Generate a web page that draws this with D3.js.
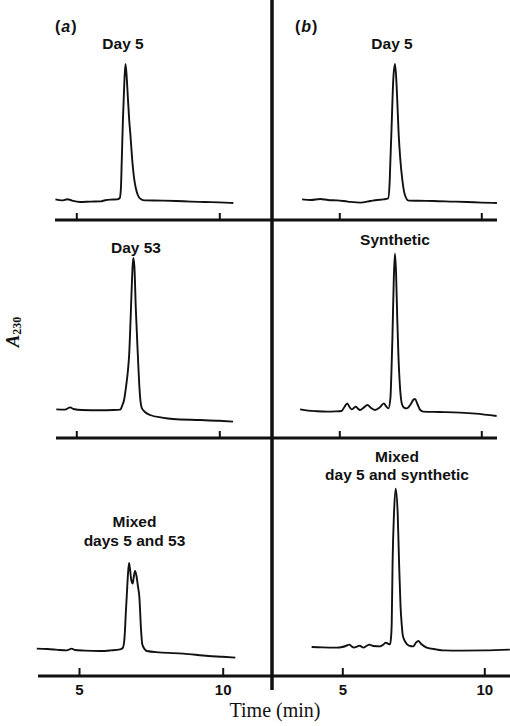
<!DOCTYPE html>
<html>
<head>
<meta charset="utf-8">
<script src="https://cdn.jsdelivr.net/npm/d3@7"></script>
<style>
  html, body { margin: 0; padding: 0; background: #fff; }
  svg { display: block; }
</style>
</head>
<body>
<svg id="chart" width="510" height="726"></svg>
<script>
// ---------- DATA (time in min, absorbance in arbitrary units) ----------
const tickValues = [5, 10];
const tickLabels = ["5", "10"];

const day5A = [[4.27,0.103],[4.5,0.098],[4.69,0.104],[4.85,0.097],[5.14,0.09],[5.5,0.092],[5.85,0.093],[6.01,0.099],[6.2,0.102],[6.43,0.103],[6.52,0.11],[6.56,0.16],[6.59,0.3],[6.63,0.5],[6.68,0.69],[6.72,0.78],[6.76,0.72],[6.8,0.62],[6.85,0.5],[6.89,0.43],[6.95,0.31],[7.02,0.21],[7.08,0.16],[7.15,0.125],[7.25,0.105],[7.4,0.098],[8.0,0.097],[8.5,0.095],[9.0,0.092],[9.5,0.09],[10.0,0.088],[10.49,0.085]];
const day53A = [[4.3,0.143],[4.6,0.142],[4.79,0.153],[4.9,0.145],[5.2,0.14],[5.8,0.139],[6.3,0.14],[6.54,0.142],[6.6,0.16],[6.67,0.19],[6.74,0.257],[6.8,0.33],[6.85,0.42],[6.9,0.6],[6.95,0.8],[6.99,0.9],[7.03,0.86],[7.08,0.65],[7.15,0.42],[7.2,0.27],[7.24,0.19],[7.29,0.15],[7.4,0.13],[7.58,0.115],[8.0,0.102],[8.38,0.095],[9.33,0.09],[10.0,0.086],[10.48,0.082]];
const mixedA = [[3.53,0.137],[3.9,0.135],[4.2,0.132],[4.57,0.128],[4.75,0.137],[4.85,0.13],[5.2,0.127],[5.73,0.125],[6.1,0.128],[6.43,0.133],[6.52,0.14],[6.57,0.17],[6.6,0.228],[6.63,0.32],[6.66,0.395],[6.7,0.5],[6.74,0.565],[6.77,0.54],[6.82,0.48],[6.87,0.462],[6.91,0.5],[6.95,0.525],[7.0,0.5],[7.05,0.45],[7.1,0.395],[7.16,0.228],[7.2,0.16],[7.28,0.135],[7.36,0.125],[7.8,0.118],[8.63,0.112],[9.5,0.1],[10.0,0.096],[10.44,0.092]];
const day5B = [[3.69,0.103],[4.0,0.1],[4.33,0.105],[4.6,0.1],[4.92,0.098],[5.3,0.092],[5.74,0.087],[6.1,0.095],[6.33,0.1],[6.55,0.103],[6.72,0.108],[6.77,0.18],[6.8,0.3],[6.84,0.46],[6.9,0.7],[6.96,0.78],[7.0,0.72],[7.04,0.6],[7.09,0.43],[7.15,0.3],[7.22,0.2],[7.3,0.13],[7.44,0.097],[7.8,0.096],[8.32,0.095],[9.0,0.092],[9.5,0.09],[10.0,0.087],[10.55,0.085]];
const syntheticB = [[3.62,0.143],[3.9,0.137],[4.2,0.134],[4.56,0.132],[4.85,0.133],[5.08,0.135],[5.18,0.155],[5.28,0.173],[5.36,0.155],[5.44,0.143],[5.51,0.15],[5.58,0.157],[5.65,0.148],[5.73,0.14],[5.86,0.152],[5.99,0.165],[6.12,0.15],[6.26,0.14],[6.42,0.152],[6.57,0.173],[6.65,0.158],[6.73,0.148],[6.8,0.2],[6.84,0.35],[6.87,0.5],[6.92,0.8],[6.96,0.923],[7.0,0.82],[7.04,0.6],[7.08,0.42],[7.13,0.27],[7.2,0.173],[7.28,0.152],[7.37,0.148],[7.52,0.17],[7.62,0.193],[7.67,0.195],[7.75,0.17],[7.85,0.14],[7.96,0.132],[8.5,0.13],[9.25,0.127],[9.8,0.122],[10.54,0.11]];
const mixedB = [[3.92,0.145],[4.3,0.143],[4.8,0.142],[5.0,0.145],[5.12,0.15],[5.25,0.157],[5.33,0.148],[5.41,0.142],[5.52,0.147],[5.62,0.152],[5.68,0.146],[5.74,0.142],[5.85,0.15],[5.95,0.157],[6.1,0.15],[6.33,0.148],[6.45,0.158],[6.53,0.167],[6.6,0.162],[6.68,0.158],[6.72,0.2],[6.74,0.262],[6.77,0.562],[6.82,0.812],[6.88,0.937],[6.95,0.812],[7.0,0.562],[7.05,0.35],[7.09,0.262],[7.13,0.203],[7.22,0.17],[7.35,0.152],[7.5,0.148],[7.6,0.168],[7.68,0.175],[7.78,0.16],[7.97,0.142],[8.3,0.133],[8.56,0.128],[9.2,0.127],[10.0,0.128],[10.9,0.132]];

const titlesA = [["Day 5"], ["Day 53"], ["Mixed", "days 5 and 53"]];
const titlesB = [["Day 5"], ["Synthetic"], ["Mixed", "day 5 and synthetic"]];
const panelLetters = ["a", "b"];
const xLabel = "Time (min)";

// ---------- LAYOUT ----------
const svg = d3.select("#chart");
const ink = "#111";
const sans = "'Liberation Sans', Arial, Helvetica, sans-serif";
const serif = "'Liberation Serif', 'Times New Roman', serif";
const dividerX = 272;

const rows = [
  { axisY: 220, leftStart: 55, rightEnd: 497, xa: [76.3, 219.3], xb: [339.3, 481.3] },
  { axisY: 438, leftStart: 56, rightEnd: 497, xa: [76.3, 219.3], xb: [339.3, 481.3] },
  { axisY: 676, leftStart: 38, rightEnd: 510, xa: [79, 222.7], xb: [342.3, 484.3] }
];
const titleBaselinesA = [[49], [253], [527, 546]];
const titleBaselinesB = [[49], [245], [462, 480]];
const titleCentersA = [123, 136, 134.5];
const titleCentersB = [392, 395, 397];

const seriesA = [day5A, day53A, mixedA];
const seriesB = [day5B, syntheticB, mixedB];

rows.forEach((r, i) => {
  const xA = d3.scaleLinear().domain(tickValues).range(r.xa);
  const xB = d3.scaleLinear().domain(tickValues).range(r.xb);
  const y = d3.scaleLinear().domain([0, 1]).range([r.axisY, r.axisY - 200]);

  const line = x => d3.line().x(d => x(d[0])).y(d => y(d[1])).curve(d3.curveMonotoneX);

  // axis base lines
  svg.append("line").attr("x1", r.leftStart).attr("x2", dividerX)
    .attr("y1", r.axisY).attr("y2", r.axisY)
    .attr("stroke", ink).attr("stroke-width", 3.2);
  svg.append("line").attr("x1", dividerX).attr("x2", r.rightEnd)
    .attr("y1", r.axisY).attr("y2", r.axisY)
    .attr("stroke", ink).attr("stroke-width", 3.2);

  // ticks
  [xA, xB].forEach(x => {
    const g = svg.append("g").attr("transform", `translate(0,${r.axisY})`)
      .call(d3.axisTop(x).tickValues(tickValues).tickSize(i === 2 ? 8 : 7).tickFormat(""));
    g.select(".domain").remove();
    g.selectAll(".tick line").attr("stroke", ink).attr("stroke-width", 2);
    if (i === 2) {
      const gl = svg.append("g").attr("transform", `translate(0,${r.axisY})`)
        .call(d3.axisBottom(x).tickValues(tickValues).tickSize(0).tickPadding(8.5)
          .tickFormat((d, k) => tickLabels[k]));
      gl.select(".domain").remove();
      gl.selectAll("text").attr("font-family", sans).attr("font-size", 15)
        .attr("font-weight", "bold").attr("fill", ink);
    }
  });

  // traces
  svg.append("path").datum(seriesA[i]).attr("d", line(xA))
    .attr("fill", "none").attr("stroke", ink).attr("stroke-width", 1.9)
    .attr("stroke-linejoin", "round");
  svg.append("path").datum(seriesB[i]).attr("d", line(xB))
    .attr("fill", "none").attr("stroke", ink).attr("stroke-width", 1.9)
    .attr("stroke-linejoin", "round");

  // titles
  titlesA[i].forEach((t, k) => {
    svg.append("text").attr("x", titleCentersA[i]).attr("y", titleBaselinesA[i][k])
      .attr("text-anchor", "middle").attr("font-family", sans).attr("font-size", 15.5)
      .attr("font-weight", "bold").attr("fill", ink).text(t);
  });
  titlesB[i].forEach((t, k) => {
    svg.append("text").attr("x", titleCentersB[i]).attr("y", titleBaselinesB[i][k])
      .attr("text-anchor", "middle").attr("font-family", sans).attr("font-size", 15.5)
      .attr("font-weight", "bold").attr("fill", ink).text(t);
  });
});

// divider
svg.append("line").attr("x1", dividerX).attr("x2", dividerX).attr("y1", 0).attr("y2", 690)
  .attr("stroke", ink).attr("stroke-width", 3.5);

// panel letters
[[55, panelLetters[0]], [295, panelLetters[1]]].forEach(([x, l]) => {
  const t = svg.append("text").attr("x", x).attr("y", 32).attr("font-family", sans)
    .attr("font-size", 16).attr("font-weight", "bold").attr("fill", ink)
    .attr("letter-spacing", 1);
  t.append("tspan").text("(");
  t.append("tspan").attr("font-style", "italic").text(l);
  t.append("tspan").text(")");
});

// y label A230
const yl = svg.append("text").attr("transform", "translate(19,332) rotate(-90)")
  .attr("text-anchor", "middle").attr("font-family", serif).attr("fill", ink)
  .attr("font-weight", "bold");
yl.append("tspan").attr("font-size", 19).attr("font-style", "italic").text("A");
yl.append("tspan").attr("font-size", 12).attr("dy", 1.5).text("230");

// x label
svg.append("text").attr("x", 275).attr("y", 717).attr("text-anchor", "middle")
  .attr("font-family", serif).attr("font-size", 20).attr("fill", ink).text(xLabel);
</script>
</body>
</html>
